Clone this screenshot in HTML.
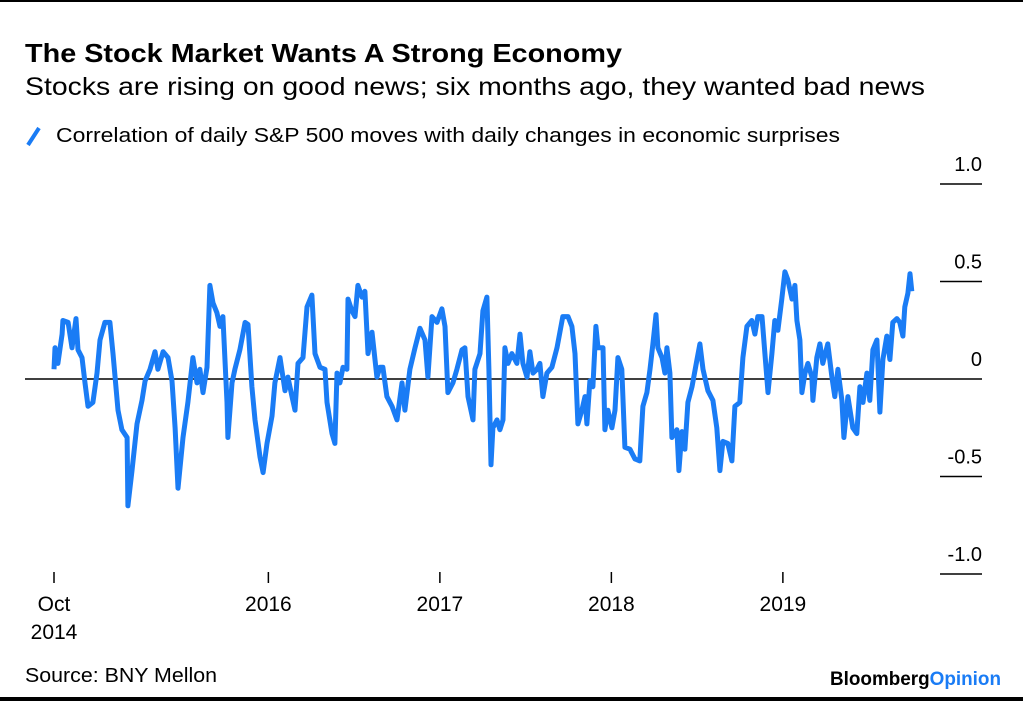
<!DOCTYPE html>
<html><head><meta charset="utf-8"><style>
html,body{margin:0;padding:0;background:#fff}
body{width:1023px;height:701px;position:relative;overflow:hidden;font-family:"Liberation Sans",Arial,sans-serif;color:#000}
svg{position:absolute;left:0;top:0}
</style></head><body>
<svg id="chart" width="1023" height="701">
<rect x="0" y="0" width="1023" height="2" fill="#000"/>
<rect x="0" y="697" width="1023" height="4" fill="#000"/>
<text x="25" y="62" font-size="26" font-weight="bold" textLength="597" lengthAdjust="spacingAndGlyphs">The Stock Market Wants A Strong Economy</text>
<text x="25" y="95" font-size="25" textLength="900" lengthAdjust="spacingAndGlyphs">Stocks are rising on good news; six months ago, they wanted bad news</text>
<line x1="28" y1="145" x2="39" y2="128" stroke="#1a7cf5" stroke-width="4"/>
<text x="56" y="142" font-size="20" textLength="784" lengthAdjust="spacingAndGlyphs">Correlation of daily S&amp;P 500 moves with daily changes in economic surprises</text>
<g id="yaxis"></g>
<g id="xaxis"></g>
<line x1="25" x2="982" y1="379" y2="379" stroke="#000" stroke-width="1.5"/>
<path id="series" fill="none" stroke="#1a7cf5" stroke-width="5" stroke-linejoin="round"/>
<text x="25" y="682" font-size="20" textLength="192" lengthAdjust="spacingAndGlyphs">Source: BNY Mellon</text>
<text x="830" y="685" font-size="19" font-weight="bold" textLength="171" lengthAdjust="spacingAndGlyphs">Bloomberg<tspan fill="#1a7cf5">Opinion</tspan></text>
</svg>
<script>
const dates=[2014.750,2014.756,2014.773,2014.797,2014.802,2014.832,2014.855,2014.878,2014.890,2014.913,2014.931,2014.948,2014.977,2015.001,2015.018,2015.047,2015.076,2015.094,2015.123,2015.146,2015.176,2015.181,2015.205,2015.234,2015.263,2015.281,2015.310,2015.339,2015.356,2015.386,2015.415,2015.438,2015.456,2015.473,2015.502,2015.531,2015.560,2015.584,2015.601,2015.619,2015.642,2015.659,2015.677,2015.700,2015.718,2015.735,2015.759,2015.764,2015.788,2015.805,2015.834,2015.864,2015.881,2015.904,2015.922,2015.951,2015.969,2015.992,2016.021,2016.038,2016.068,2016.097,2016.114,2016.138,2016.155,2016.173,2016.202,2016.225,2016.254,2016.272,2016.301,2016.330,2016.342,2016.371,2016.388,2016.400,2016.417,2016.435,2016.458,2016.464,2016.487,2016.505,2016.522,2016.546,2016.563,2016.581,2016.604,2016.633,2016.651,2016.668,2016.691,2016.721,2016.750,2016.779,2016.796,2016.825,2016.855,2016.884,2016.913,2016.930,2016.954,2016.983,2017.012,2017.030,2017.047,2017.076,2017.099,2017.129,2017.146,2017.164,2017.193,2017.204,2017.234,2017.251,2017.274,2017.286,2017.298,2017.309,2017.333,2017.350,2017.368,2017.379,2017.397,2017.420,2017.449,2017.467,2017.484,2017.508,2017.525,2017.543,2017.566,2017.583,2017.601,2017.624,2017.653,2017.683,2017.700,2017.717,2017.747,2017.770,2017.788,2017.805,2017.828,2017.846,2017.857,2017.875,2017.892,2017.910,2017.922,2017.951,2017.962,2017.980,2018.003,2018.021,2018.038,2018.061,2018.079,2018.108,2018.137,2018.166,2018.184,2018.207,2018.225,2018.242,2018.260,2018.271,2018.295,2018.312,2018.324,2018.341,2018.353,2018.382,2018.394,2018.411,2018.429,2018.446,2018.470,2018.499,2018.516,2018.534,2018.563,2018.592,2018.615,2018.633,2018.650,2018.679,2018.703,2018.720,2018.749,2018.767,2018.790,2018.819,2018.837,2018.854,2018.878,2018.895,2018.913,2018.936,2018.953,2018.971,2018.994,2019.012,2019.029,2019.053,2019.070,2019.082,2019.099,2019.111,2019.129,2019.146,2019.169,2019.175,2019.198,2019.216,2019.233,2019.262,2019.286,2019.303,2019.321,2019.344,2019.356,2019.379,2019.408,2019.431,2019.449,2019.467,2019.490,2019.507,2019.525,2019.548,2019.566,2019.583,2019.606,2019.624,2019.641,2019.665,2019.682,2019.700,2019.711,2019.729,2019.741,2019.752];
const values=[.05,.16,.08,.23,.30,.29,.16,.31,.15,.11,-.02,-.14,-.12,.03,.20,.29,.29,.13,-.16,-.26,-.30,-.65,-.47,-.23,-.11,-.01,.05,.14,.05,.14,.11,-.01,-.25,-.56,-.30,-.12,.11,-.02,.05,-.07,.06,.48,.39,.34,.27,.32,-.12,-.30,-.02,.05,.15,.29,.28,-.04,-.21,-.40,-.48,-.33,-.19,-.02,.11,-.06,.01,-.09,-.16,.08,.11,.37,.43,.13,.06,.05,-.12,-.28,-.33,.03,-.02,.06,.05,.41,.35,.32,.48,.42,.45,.13,.24,.01,.06,.06,-.09,-.14,-.21,-.02,-.16,.05,.16,.26,.20,.01,.32,.29,.36,.27,-.07,-.02,.05,.15,.16,-.09,-.21,.05,.13,.35,.42,.05,-.44,-.25,-.21,-.26,-.21,.16,.08,.13,.08,.23,.08,.01,.14,.03,.05,.08,-.09,.03,.06,.16,.24,.32,.32,.27,.13,-.23,-.16,-.09,-.23,-.01,-.04,.27,.16,.16,-.26,-.16,-.25,-.16,.11,.05,-.35,-.36,-.41,-.42,-.14,-.07,.05,.18,.33,.16,.11,.03,.16,.03,-.30,-.26,-.47,-.27,-.36,-.12,-.04,.10,.18,.05,-.06,-.11,-.25,-.47,-.32,-.33,-.42,-.14,-.12,.11,.27,.30,.23,.32,.32,.13,-.07,.13,.30,.25,.41,.55,.51,.41,.48,.30,.20,-.07,.03,.08,.01,-.11,.11,.18,.08,.18,.01,-.09,.05,-.11,-.30,-.09,-.25,-.28,-.04,-.12,.03,-.11,.15,.20,-.17,.10,.22,.10,.29,.31,.29,.22,.37,.44,.54,.45];
const yTicks=[1.0,0.5,0,-0.5,-1.0];
const yTickLabels=["1.0","0.5","0","-0.5","-1.0"];
const xTicks=[2014.75,2016,2017,2018,2019];
const xTickLabels=["Oct","2016","2017","2018","2019"];

const NS="http://www.w3.org/2000/svg";
const xS=t=>54+(t-2014.75)*171.5;
const yS=v=>379-v*195;
const ya=document.getElementById('yaxis'), xa=document.getElementById('xaxis');
yTicks.forEach((v,i)=>{
  if(v!==0){
    const l=document.createElementNS(NS,'line');
    l.setAttribute('x1',940);l.setAttribute('x2',982);
    l.setAttribute('y1',yS(v));l.setAttribute('y2',yS(v));
    l.setAttribute('stroke','#000');l.setAttribute('stroke-width','1.5');
    
    
    ya.appendChild(l);
  }
  const t=document.createElementNS(NS,'text');
  t.setAttribute('x',982);t.setAttribute('y',yS(v)-13);
  t.setAttribute('text-anchor','end');t.setAttribute('font-size','20');
  t.textContent=yTickLabels[i];
  
  
  ya.appendChild(t);
});
xTicks.forEach((v,i)=>{
  const l=document.createElementNS(NS,'line');
  l.setAttribute('x1',xS(v));l.setAttribute('x2',xS(v));
  l.setAttribute('y1',572);l.setAttribute('y2',583);
  l.setAttribute('stroke','#000');l.setAttribute('stroke-width','1.5');
  
  
  xa.appendChild(l);
  const t=document.createElementNS(NS,'text');
  t.setAttribute('x',xS(v));t.setAttribute('y',611);
  t.setAttribute('text-anchor','middle');t.setAttribute('font-size','21');
  t.textContent=xTickLabels[i];
  
  
  xa.appendChild(t);
  if(i===0){
    const t2=document.createElementNS(NS,'text');
    t2.setAttribute('x',xS(v));t2.setAttribute('y',639);
    t2.setAttribute('text-anchor','middle');t2.setAttribute('font-size','21');
    t2.textContent="2014";
    
    
    xa.appendChild(t2);
  }
});
document.getElementById('series').setAttribute('d',dates.map((d,i)=>(i?'L':'M')+xS(d).toFixed(1)+','+yS(values[i]).toFixed(1)).join(''));
</script>
</body></html>
